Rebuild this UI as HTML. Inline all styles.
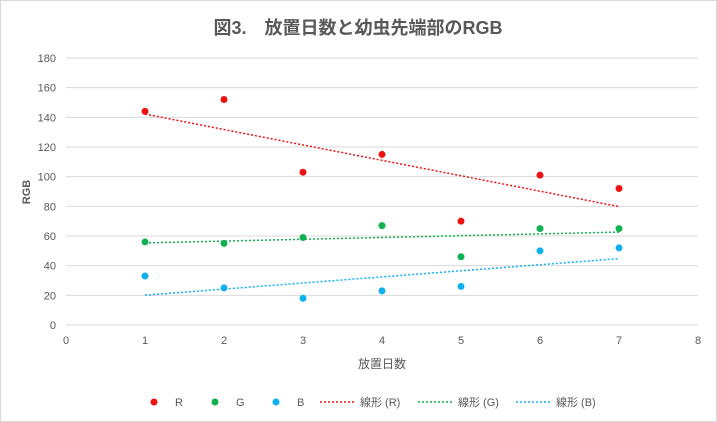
<!DOCTYPE html>
<html><head><meta charset="utf-8"><style>
body{margin:0;background:#fff;}
svg{display:block;font-family:"Liberation Sans","Noto Sans CJK JP",sans-serif;}
</style></head><body>
<svg id="chart" width="717" height="422" viewBox="0 0 717 422">
<rect x="0.5" y="0.5" width="716" height="421" fill="#fff" stroke="#d9d9d9"/>
<text x="358" y="34" text-anchor="middle" font-size="18" font-weight="bold" fill="#595959">図3.　放置日数と幼虫先端部のRGB</text>
<g id="grid"></g><g id="axes"></g><g id="marks"></g><g id="legend"></g>
</svg>
<script>
const xs=[1,2,3,4,5,6,7];
const rVals=[144,152,103,115,70,101,92];
const gVals=[56,55,59,67,46,65,65];
const bVals=[33,25,18,23,26,50,52];
const xTicks=[0,1,2,3,4,5,6,7,8];
const yTicks=[0,20,40,60,80,100,120,140,160,180];
const NS="http://www.w3.org/2000/svg";
const X=v=>66+v*79, Y=v=>325-v*(267/180);
function mk(tag,attrs,parent,text){const e=document.createElementNS(NS,tag);for(const k in attrs)e.setAttribute(k,attrs[k]);if(text!==undefined)e.textContent=text;parent.appendChild(e);return e;}
const grid=document.getElementById('grid'),axes=document.getElementById('axes'),marks=document.getElementById('marks'),leg=document.getElementById('legend');
yTicks.forEach(t=>{const l=mk('line',{x1:66,x2:698,y1:Y(t),y2:Y(t),stroke:'#d9d9d9'},grid);


const tx=mk('text',{x:56,y:Y(t)+4,'text-anchor':'end','font-size':11,fill:'#595959'},axes,t);

});
xTicks.forEach(t=>{const tx=mk('text',{x:X(t),y:344,'text-anchor':'middle','font-size':11,fill:'#595959'},axes,t);

});
const xt=mk('text',{x:382,y:368,'text-anchor':'middle','font-size':12,fill:'#595959'},axes,'放置日数');


const yt=mk('text',{x:0,y:0,'text-anchor':'middle','font-size':11,'font-weight':'bold',fill:'#595959',transform:'translate(30,192) rotate(-90)'},axes,'RGB');


function trend(vals){const n=xs.length,mx=xs.reduce((a,b)=>a+b)/n,my=vals.reduce((a,b)=>a+b)/n;let sxy=0,sxx=0;xs.forEach((x,i)=>{sxy+=(x-mx)*(vals[i]-my);sxx+=(x-mx)*(x-mx);});const s=sxy/sxx;return [my+s*(xs[0]-mx),my+s*(xs[n-1]-mx)];}
const series=[['r',rVals,'#ee1111'],['g',gVals,'#11b050'],['b',bVals,'#10b0ee']];
series.forEach(([nm,vals,c])=>{const [a,b]=trend(vals);
const l=mk('line',{x1:X(xs[0]),y1:Y(a),x2:X(xs[xs.length-1]),y2:Y(b),stroke:c,'stroke-width':1.5,'stroke-dasharray':'2 2'},marks);

});
series.forEach(([nm,vals,c])=>{vals.forEach((v,i)=>{const p=mk('circle',{cx:X(xs[i]),cy:Y(v),r:3.5,fill:c},marks);

});});
const legItems=[['R','#ee1111',154,false],['G','#11b050',215,false],['B','#10b0ee',276,false],['線形 (R)','#ee1111',320,true],['線形 (G)','#11b050',418,true],['線形 (B)','#10b0ee',516,true]];
legItems.forEach(([t,c,x,dash])=>{const g=mk('g',{},leg);


if(dash){mk('line',{x1:x,x2:x+36,y1:402,y2:402,stroke:c,'stroke-width':1.5,'stroke-dasharray':'2 2'},g);mk('text',{x:x+40,y:406,'font-size':11,fill:'#595959'},g,t);}
else{mk('circle',{cx:x,cy:402,r:3.5,fill:c},g);mk('text',{x:x+21,y:406,'font-size':11,fill:'#595959'},g,t);}});
</script>
</body></html>
